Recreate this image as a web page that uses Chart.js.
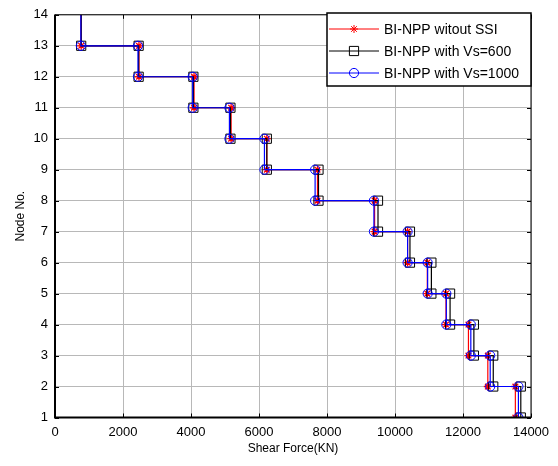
<!DOCTYPE html>
<html lang="en">
<head>
    <meta charset="UTF-8">
    <title>Shear Force Distribution</title>
    <script src="https://cdn.jsdelivr.net/npm/chart.js"></script>
    <style>
        body {
            margin: 0;
            background: #fff;
        }
        #wrap {
            width: 558px;
            height: 466px;
        }
    </style>
</head>
<body>
    <div id="wrap"><canvas id="shearChart" width="558" height="466"></canvas></div>

    <script>
        // Node levels, top of the building to the base
        const nodeLevels = [14, 13, 12, 11, 10, 9, 8, 7, 6, 5, 4, 3, 2, 1];

        // Story shear (KN), one value per story from the top down
        const shearNoSSI  = [770, 2470, 4090, 5180, 6230, 7720, 9400, 10370, 10950, 11500, 12160, 12730, 13540];
        const shearVs600  = [770, 2460, 4070, 5160, 6230, 7750, 9500, 10440, 11070, 11620, 12320, 12890, 13700];
        const shearVs1000 = [760, 2440, 4050, 5130, 6160, 7650, 9380, 10370, 10960, 11510, 12230, 12800, 13630];

        const xTicks = [0, 2000, 4000, 6000, 8000, 10000, 12000, 14000];

        const seriesNames = ["BI-NPP witout SSI", "BI-NPP with Vs=600", "BI-NPP with Vs=1000"];

        // Turn story shears into a stepped line: each story is a horizontal run between two nodes
        function stepPoints(shear) {
            const pts = [];
            shear.forEach((v, i) => {
                pts.push({ x: v, y: nodeLevels[i] });
                pts.push({ x: v, y: nodeLevels[i + 1] });
            });
            return pts;
        }

        function radii(shear, r) {
            return stepPoints(shear).map((p, i) => i === 0 ? 0 : r);
        }

        const fontFamily = "'Liberation Sans', Arial, sans-serif";

        // Box, inward ticks and the legend drawn like a MATLAB axes
        const framePlugin = {
            id: "frame",
            afterDatasetsDraw(chart) {
                const { ctx, chartArea: a, scales } = chart;
                ctx.save();
                ctx.strokeStyle = "#000";
                ctx.lineWidth = 1;
                ctx.beginPath();
                xTicks.forEach(v => {
                    const px = Math.round(scales.x.getPixelForValue(v)) + 0.5;
                    ctx.moveTo(px, a.bottom); ctx.lineTo(px, a.bottom - 4);
                    ctx.moveTo(px, a.top); ctx.lineTo(px, a.top + 4);
                });
                nodeLevels.forEach(v => {
                    const py = Math.round(scales.y.getPixelForValue(v)) + 0.5;
                    ctx.moveTo(a.left, py); ctx.lineTo(a.left + 4, py);
                    ctx.moveTo(a.right, py); ctx.lineTo(a.right - 4, py);
                });
                ctx.stroke();

                ctx.lineWidth = 1;
                ctx.strokeRect(a.left, a.top, a.right - a.left, a.bottom - a.top);
                ctx.lineWidth = 2;
                ctx.beginPath();
                ctx.moveTo(a.left, a.top);
                ctx.lineTo(a.left, a.bottom);
                ctx.lineTo(a.right, a.bottom);
                ctx.stroke();
                ctx.restore();
            },
            afterDraw(chart) {
                const { ctx } = chart;
                const box = { x: 327, y: 13, w: 204, h: 73 };
                const rows = [29, 51, 73];
                ctx.save();
                ctx.fillStyle = "#fff";
                ctx.fillRect(box.x, box.y, box.w, box.h);
                ctx.strokeStyle = "#000";
                ctx.lineWidth = 1.5;
                ctx.strokeRect(box.x, box.y, box.w, box.h);

                chart.data.datasets.forEach((ds, i) => {
                    const y = rows[i];
                    ctx.strokeStyle = ds.borderColor;
                    ctx.lineWidth = 1;
                    ctx.beginPath();
                    ctx.moveTo(329, y);
                    ctx.lineTo(379, y);
                    ctx.stroke();
                    drawMarker(ctx, ds.pointStyle, 354, y, ds.legendRadius, ds.borderColor);

                    ctx.fillStyle = "#000";
                    ctx.font = "14px " + fontFamily;
                    ctx.textAlign = "left";
                    ctx.textBaseline = "middle";
                    ctx.fillText(ds.label, 384, y + 1);
                });
                ctx.restore();
            }
        };

        function drawMarker(ctx, style, x, y, r, color) {
            ctx.strokeStyle = color;
            ctx.lineWidth = 1;
            ctx.beginPath();
            if (style === "star") {
                for (let k = 0; k < 4; k++) {
                    const t = k * Math.PI / 4;
                    ctx.moveTo(x - r * Math.cos(t), y - r * Math.sin(t));
                    ctx.lineTo(x + r * Math.cos(t), y + r * Math.sin(t));
                }
            } else if (style === "rect") {
                const s = r * Math.SQRT1_2;
                ctx.rect(x - s, y - s, 2 * s, 2 * s);
            } else {
                ctx.arc(x, y, r, 0, Math.PI * 2);
            }
            ctx.stroke();
        }

        const ctx = document.getElementById("shearChart").getContext("2d");
        new Chart(ctx, {
            type: "scatter",
            data: {
                datasets: [
                    {
                        label: seriesNames[0],
                        data: stepPoints(shearNoSSI),
                        showLine: true,
                        borderColor: "#ff0000",
                        backgroundColor: "rgba(0,0,0,0)",
                        borderWidth: 1.2,
                        pointStyle: "star",
                        pointRadius: radii(shearNoSSI, 4),
                        legendRadius: 4,
                        pointBorderWidth: 1.3,
                        order: 3
                    },
                    {
                        label: seriesNames[1],
                        data: stepPoints(shearVs600),
                        showLine: true,
                        borderColor: "#000000",
                        backgroundColor: "rgba(0,0,0,0)",
                        borderWidth: 1.2,
                        pointStyle: "rect",
                        pointRadius: radii(shearVs600, 6.5),
                        legendRadius: 6.5,
                        pointBorderWidth: 1,
                        order: 2
                    },
                    {
                        label: seriesNames[2],
                        data: stepPoints(shearVs1000),
                        showLine: true,
                        borderColor: "#0000ff",
                        backgroundColor: "rgba(0,0,0,0)",
                        borderWidth: 1.2,
                        pointStyle: "circle",
                        pointRadius: radii(shearVs1000, 4.6),
                        legendRadius: 4.6,
                        pointBorderWidth: 1,
                        order: 1
                    }
                ]
            },
            options: {
                responsive: false,
                animation: false,
                layout: { padding: { top: 11, right: 27, left: 0, bottom: 0 } },
                elements: { line: { tension: 0 } },
                plugins: {
                    legend: { display: false },
                    tooltip: { enabled: false }
                },
                scales: {
                    x: {
                        type: "linear",
                        min: 0,
                        max: 14000,
                        afterFit: s => { s.height = 48.5; },
                        afterBuildTicks: s => { s.ticks = xTicks.map(v => ({ value: v })); },
                        ticks: {
                            color: "#000",
                            padding: 7,
                            font: { family: fontFamily, size: 13 },
                            callback: v => String(v)
                        },
                        grid: { color: "#b8b8b8", lineWidth: 1, drawTicks: false },
                        border: { display: false },
                        title: {
                            display: true,
                            text: "Shear Force(KN)",
                            color: "#000",
                            font: { family: fontFamily, size: 12 },
                            padding: { top: 0, bottom: 10 }
                        }
                    },
                    y: {
                        type: "linear",
                        min: 1,
                        max: 14,
                        afterFit: s => { s.width = 55; },
                        afterBuildTicks: s => { s.ticks = nodeLevels.map(v => ({ value: v })); },
                        ticks: {
                            color: "#000",
                            padding: 7,
                            font: { family: fontFamily, size: 13 }
                        },
                        grid: { color: "#b8b8b8", lineWidth: 1, drawTicks: false },
                        border: { display: false },
                        title: {
                            display: true,
                            text: "Node No.",
                            color: "#000",
                            font: { family: fontFamily, size: 12 },
                            padding: { top: 13, bottom: 0 }
                        }
                    }
                }
            },
            plugins: [framePlugin]
        });
    </script>
</body>
</html>
